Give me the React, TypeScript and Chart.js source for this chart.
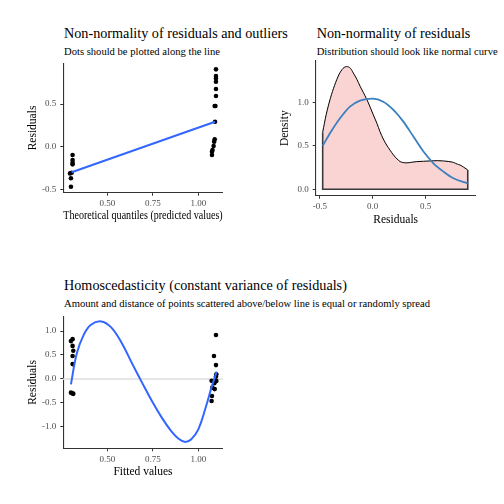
import React, { useEffect, useRef } from "react";
import { Chart, registerables } from "chart.js";
Chart.register(...registerables);

const FONT = "'Liberation Serif', 'Times New Roman', Times, serif";
const TICK_COLOR = "#4D4D4D";
const AXIS_COLOR = "#333333";

// ---------- Panel 1: residuals vs theoretical quantiles ----------
const qqX = [0.309, 0.309, 0.309, 0.309, 0.304, 0.295, 0.300, 0.300, 1.097, 1.097, 1.097, 1.097, 1.097, 1.097, 1.094, 1.090, 1.092, 1.090, 1.087, 1.084, 1.078, 1.075, 1.075];
const qqY = [-0.098, -0.156, -0.188, -0.207, -0.305, -0.313, -0.37, -0.469, 0.906, 0.828, 0.80, 0.76, 0.676, 0.594, 0.477, 0.477, 0.293, 0.086, 0.059, 0.008, -0.04, -0.059, -0.098];
const qqLineX = [0.304, 1.092];
const qqLineY = [-0.30, 0.293];
const qqXTicks = [0.5, 0.75, 1.0];
const qqYTicks = [-0.5, 0.0, 0.5];

// ---------- Panel 2: density of residuals ----------
const densX = [-0.473, -0.44, -0.40, -0.36, -0.32, -0.28, -0.246, -0.21, -0.183, -0.15, -0.12, -0.09, -0.057, -0.025, 0.006, 0.04, 0.069, 0.10, 0.132, 0.165, 0.196, 0.23, 0.259, 0.29, 0.322, 0.37, 0.416, 0.48, 0.543, 0.61, 0.669, 0.72, 0.763, 0.80, 0.826, 0.86, 0.899];
const densY = [0.658, 0.86, 1.05, 1.20, 1.32, 1.395, 1.415, 1.395, 1.34, 1.27, 1.19, 1.12, 1.04, 0.95, 0.858, 0.76, 0.665, 0.58, 0.51, 0.45, 0.396, 0.35, 0.32, 0.308, 0.305, 0.312, 0.319, 0.323, 0.327, 0.33, 0.327, 0.32, 0.31, 0.29, 0.28, 0.255, 0.223];
const normX = [-0.473, -0.404, -0.309, -0.215, -0.12, 0.0, 0.10, 0.196, 0.29, 0.385, 0.48, 0.574, 0.669, 0.763, 0.899];
const normY = [0.50, 0.646, 0.819, 0.954, 1.023, 1.046, 1.01, 0.915, 0.78, 0.608, 0.435, 0.30, 0.204, 0.127, 0.069];
const densXTicks = [-0.5, 0.0, 0.5];
const densYTicks = [0.0, 0.5, 1.0];

// ---------- Panel 3: residuals vs fitted ----------
const fitX = [0.300, 0.309, 0.309, 0.313, 0.309, 0.309, 0.300, 0.309, 0.313, 1.097, 1.086, 1.097, 1.099, 1.097, 1.073, 1.099, 1.088, 1.077, 1.090, 1.075, 1.073];
const fitY = [0.79, 0.83, 0.69, 0.59, 0.48, 0.31, -0.285, -0.30, -0.31, 0.917, 0.48, 0.29, 0.097, 0.05, -0.035, -0.04, -0.09, -0.18, -0.21, -0.354, -0.46];
const smoothX = [0.300, 0.332, 0.370, 0.410, 0.466, 0.520, 0.579, 0.635, 0.690, 0.745, 0.800, 0.850, 0.890, 0.925, 0.960, 1.000, 1.040, 1.073, 1.101];
const smoothY = [-0.111, 0.53, 0.92, 1.13, 1.20, 1.08, 0.75, 0.33, -0.07, -0.46, -0.81, -1.08, -1.24, -1.31, -1.26, -1.05, -0.60, -0.17, 0.153];
const fitXTicks = [0.5, 0.75, 1.0];
const fitYTicks = [-1.0, -0.5, 0.0, 0.5, 1.0];

const pts = (xs: number[], ys: number[]) => xs.map((x, i) => ({ x, y: ys[i] }));

type Geo = { L: number; T: number; W: number; H: number; x0: number; x1: number; y0: number; y1: number };

function axis(
  min: number, max: number, ticks: number[], dec: number, title: string,
  isX: boolean, size: number, titlePad: number
) {
  return {
    type: "linear",
    min,
    max,
    afterBuildTicks: (s: any) => { s.ticks = ticks.map((v) => ({ value: v })); },
    afterFit: (s: any) => { if (isX) s.height = size; else s.width = size; },
    ticks: {
      callback: (v: any) => Number(v).toFixed(dec),
      font: { family: FONT, size: 9 },
      color: TICK_COLOR,
      padding: isX ? 2.5 : 4,
      maxRotation: 0,
      autoSkip: false,
    },
    grid: { display: true, drawOnChartArea: false, drawTicks: true, tickLength: 3, color: AXIS_COLOR, lineWidth: 1 },
    border: { display: true, color: AXIS_COLOR, width: 1.1 },
    title: {
      display: true,
      text: title,
      font: { family: FONT, size: 11.5 },
      color: "#000",
      padding: isX ? { top: 0, bottom: titlePad } : { top: titlePad, bottom: 0 },
    },
  };
}

const zeroLine = {
  id: "zeroLine",
  beforeDatasetsDraw(chart: any) {
    const { ctx, chartArea, scales } = chart;
    const y = scales.y.getPixelForValue(0);
    ctx.save();
    ctx.strokeStyle = "#E6E6E6";
    ctx.lineWidth = 2;
    ctx.beginPath();
    ctx.moveTo(chartArea.left, y);
    ctx.lineTo(chartArea.right, y);
    ctx.stroke();
    ctx.restore();
  },
};

function Panel({ geo, build }: { geo: Geo; build: (geo: Geo) => any }) {
  const ref = useRef<HTMLCanvasElement>(null);
  useEffect(() => {
    if (!ref.current) return;
    const chart = new Chart(ref.current, build(geo));
    return () => chart.destroy();
  }, []);
  return (
    <canvas
      ref={ref}
      width={geo.W}
      height={geo.H}
      style={{ position: "absolute", left: geo.L, top: geo.T, width: geo.W, height: geo.H }}
    />
  );
}

function baseOptions(geo: Geo, scales: any) {
  return {
    responsive: false,
    animation: false,
    events: [],
    layout: { padding: { left: 0, top: geo.y0 - geo.T, right: geo.L + geo.W - geo.x1, bottom: 0 } },
    plugins: { legend: { display: false }, tooltip: { enabled: false }, title: { display: false } },
    scales,
  };
}

const geo1: Geo = { L: 0, T: 30, W: 245, H: 202, x0: 63.3, x1: 222.7, y0: 63.3, y1: 192.7 };
const geo2: Geo = { L: 250, T: 30, W: 254, H: 202, x0: 315.7, x1: 475.7, y0: 60.7, y1: 195.7 };
const geo3: Geo = { L: 0, T: 270, W: 245, H: 220, x0: 63.3, x1: 222.7, y0: 316.7, y1: 448.3 };

const build1 = (g: Geo) => ({
  type: "line",
  data: {
    datasets: [
      { data: pts(qqLineX, qqLineY), borderColor: "#3366FF", borderWidth: 2, pointRadius: 0, fill: false },
      { data: pts(qqX, qqY), showLine: false, pointRadius: 2.3, backgroundColor: "#000", borderWidth: 0 },
    ],
  },
  options: baseOptions(g, {
    x: axis(0.258, 1.134, qqXTicks, 2, "Theoretical quantiles (predicted values)", true, g.T + g.H - g.y1, 9.3),
    y: axis(-0.539, 0.977, qqYTicks, 1, "Residuals", false, g.x0 - g.L, 25.6),
  }),
});

const build2 = (g: Geo) => {
  const n = densX.length - 1;
  return {
    type: "line",
    data: {
      datasets: [
        { data: pts(normX, normY), borderColor: "#3A80C0", borderWidth: 1.8, pointRadius: 0, fill: false, cubicInterpolationMode: "monotone" },
        {
          data: [
            { x: densX[0], y: densY[0] }, { x: densX[0], y: 0 },
            { x: densX[n], y: 0 }, { x: densX[n], y: densY[n] },
          ],
          borderColor: "#3a3a3a", borderWidth: 1.6, pointRadius: 0, fill: false, tension: 0,
        },
        {
          data: pts(densX, densY), borderColor: "#000", borderWidth: 1, pointRadius: 0,
          fill: "origin", backgroundColor: "rgba(240,128,128,0.35)", cubicInterpolationMode: "monotone",
        },
      ],
    },
    options: baseOptions(g, {
      x: axis(-0.539, 0.974, densXTicks, 1, "Residuals", true, g.T + g.H - g.y1, 5.3),
      y: axis(-0.074, 1.483, densYTicks, 1, "Density", false, g.x0 - g.L, 28.1),
    }),
  };
};

const build3 = (g: Geo) => ({
  type: "line",
  data: {
    datasets: [
      { data: pts(smoothX, smoothY), borderColor: "#3366FF", borderWidth: 2, pointRadius: 0, fill: false, tension: 0.4 },
      { data: pts(fitX, fitY), showLine: false, pointRadius: 2.3, backgroundColor: "#000", borderWidth: 0 },
    ],
  },
  options: baseOptions(g, {
    x: axis(0.258, 1.134, fitXTicks, 2, "Fitted values", true, g.T + g.H - g.y1, 11.6),
    y: axis(-1.444, 1.298, fitYTicks, 1, "Residuals", false, g.x0 - g.L, 25.6),
  }),
  plugins: [zeroLine],
});

const titleStyle = (left: number, top: number, size: number): React.CSSProperties => ({
  position: "absolute",
  left,
  top,
  fontFamily: FONT,
  fontSize: size,
  lineHeight: `${size}px`,
  whiteSpace: "nowrap",
  color: "#000",
  margin: 0,
});

export default function App() {
  return (
    <div style={{ position: "fixed", left: 0, top: 0, width: 504, height: 504, background: "#fff", overflow: "hidden" }}>
      <div style={titleStyle(64, 26.4, 14.2)}>Non-normality of residuals and outliers</div>
      <div style={titleStyle(64, 46.8, 10.6)}>Dots should be plotted along the line</div>
      <div style={titleStyle(316.7, 26.4, 14.2)}>Non-normality of residuals</div>
      <div style={titleStyle(316.7, 46.8, 10.6)}>Distribution should look like normal curve</div>
      <div style={titleStyle(64, 278.1, 14.2)}>Homoscedasticity (constant variance of residuals)</div>
      <div style={titleStyle(64, 298.8, 10.6)}>Amount and distance of points scattered above/below line is equal or randomly spread</div>
      <Panel geo={geo1} build={build1} />
      <Panel geo={geo2} build={build2} />
      <Panel geo={geo3} build={build3} />
    </div>
  );
}
